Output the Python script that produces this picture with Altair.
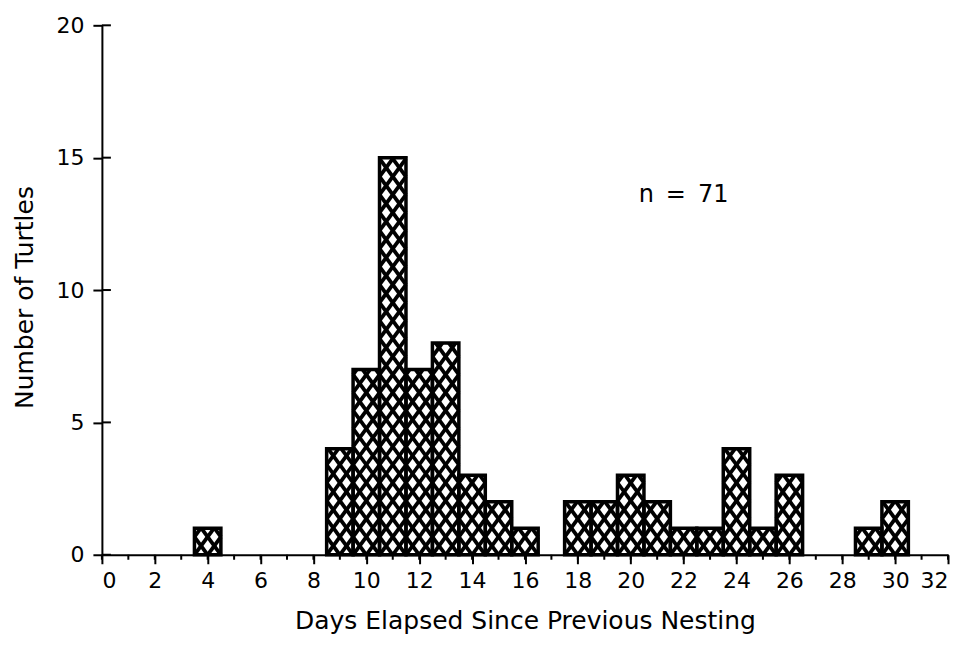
import altair as alt
import pandas as pd
import numpy as np

# ---- data ----
days = [4, 9, 10, 11, 12, 13, 14, 15, 16, 18, 19, 20, 21, 22, 23, 24, 25, 26, 29, 30]
counts = [1, 4, 7, 15, 7, 8, 3, 2, 1, 2, 2, 3, 2, 1, 1, 4, 1, 3, 1, 2]
x_major_ticks = list(range(0, 33, 2))
x_minor_ticks = list(range(0, 33))
y_ticks = [0, 5, 10, 15, 20]
note_text = ["n\u2002=\u200271"]
note_x = [20.3]
note_y = [13.6]

W, H = 847, 530
FONT = "DejaVu Sans"

bars = pd.DataFrame({"day": days, "count": counts})
bars["x0"] = bars["day"] - 0.5
bars["x1"] = bars["day"] + 0.5

# cross-hatch segments, clipped to each bar (style only, derived from bars)
HS = 0.68          # vertical spacing of hatch crossings (count units)
S = HS / 0.5       # slope (count units per day)
segs = []
for c, v in zip(days, counts):
    left, right = c - 0.5, c + 0.5
    kmin = int(np.floor(-S * 0.5 / HS)) - 1
    kmax = int(np.ceil((v + S * 0.5) / HS)) + 1
    for k in range(kmin, kmax + 1):
        a = k * HS
        xa = max(left, c + (0 - a) / S)
        xb = min(right, c + (v - a) / S)
        if xb > xa + 1e-9:
            segs.append((xa, S * (xa - c) + a, xb, S * (xb - c) + a))
        xa = max(left, c + (a - v) / S)
        xb = min(right, c + a / S)
        if xb > xa + 1e-9:
            segs.append((xa, -S * (xa - c) + a, xb, -S * (xb - c) + a))
hatch = pd.DataFrame(segs, columns=["hx", "hy", "hx2", "hy2"])

x_scale = alt.Scale(domain=[0, 32], nice=False, zero=False)
y_scale = alt.Scale(domain=[0, 20], nice=False)
x_axis = alt.Axis(values=x_major_ticks, title="Days Elapsed Since Previous Nesting",
                  tickSize=9, labelPadding=7, titlePadding=17, grid=False)
y_axis = alt.Axis(values=y_ticks, title="Number of Turtles",
                  tickSize=9, labelPadding=9, titlePadding=18, titleY=272, grid=False)

hatch_layer = alt.Chart(hatch).mark_rule(color="black", strokeWidth=3.8, strokeCap="butt").encode(
    x=alt.X("hx:Q", scale=x_scale, axis=x_axis),
    y=alt.Y("hy:Q", scale=y_scale, axis=y_axis),
    x2="hx2:Q",
    y2="hy2:Q",
)

outline = alt.Chart(bars).mark_rect(fillOpacity=0, stroke="black", strokeWidth=3.5).encode(
    x=alt.X("x0:Q", scale=x_scale, axis=x_axis),
    x2="x1:Q",
    y=alt.Y("count:Q", scale=y_scale, axis=y_axis),
    y2=alt.datum(0),
)

ytick_df = pd.DataFrame({"t": y_ticks})
inner_yticks = alt.Chart(ytick_df).mark_rule(color="black", strokeWidth=2).encode(
    y=alt.Y("t:Q", scale=y_scale, axis=y_axis),
    x=alt.value(0),
    x2=alt.value(9),
)

minor_df = pd.DataFrame({"m": x_minor_ticks})
minor_xticks = alt.Chart(minor_df).mark_rule(color="black", strokeWidth=2).encode(
    x=alt.X("m:Q", scale=x_scale, axis=x_axis),
    y=alt.value(H),
    y2=alt.value(H + 5),
)

note_df = pd.DataFrame({"label": note_text, "nx": note_x, "ny": note_y})
note = alt.Chart(note_df).mark_text(align="left", baseline="middle", fontSize=24,
                                    font=FONT, color="black").encode(
    x=alt.X("nx:Q", scale=x_scale, axis=x_axis),
    y=alt.Y("ny:Q", scale=y_scale, axis=y_axis),
    text="label:N",
)

chart = alt.layer(hatch_layer, outline, inner_yticks, minor_xticks, note).properties(
    width=W, height=H,
    autosize=alt.AutoSizeParams(type="none"),
    padding={"left": 94, "top": 17, "right": 15, "bottom": 80},
    background="white",
).configure_view(stroke=None).configure_axis(
    domainColor="black", domainWidth=2, tickColor="black", tickWidth=2,
    labelColor="black", labelFont=FONT, labelFontSize=22,
    titleColor="black", titleFont=FONT, titleFontSize=25, titleFontWeight="normal",
)

chart.save("out.html", embed_options={"renderer": "svg", "actions": False})
